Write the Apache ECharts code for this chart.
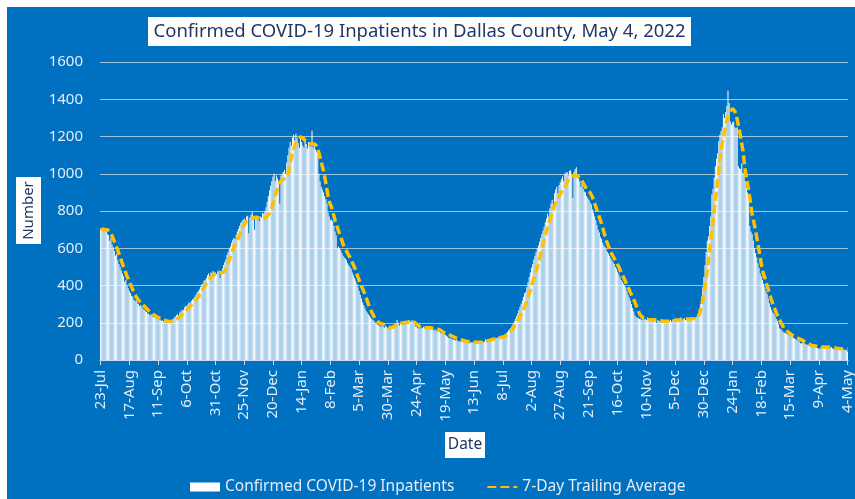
<!DOCTYPE html>
<html>
<head>
<meta charset="utf-8">
<script src="https://cdn.jsdelivr.net/npm/echarts@6/dist/echarts.min.js"></script>
<style>
html,body{margin:0;padding:0;background:#ffffff;}
#bg{position:absolute;left:7px;top:7px;width:848px;height:492px;background:#0070C0;}
#chart{position:absolute;left:0;top:0;width:855px;height:499px;}
</style>
</head>
<body>
<div id="bg"></div>
<div id="chart"></div>
<script>
// X-axis tick labels (every 25 days, 23-Jul-2020 .. 4-May-2022)
const tickLabels = ['23-Jul','17-Aug','11-Sep','6-Oct','31-Oct','25-Nov','20-Dec','14-Jan','8-Feb','5-Mar','30-Mar','24-Apr','19-May','13-Jun','8-Jul','2-Aug','27-Aug','21-Sep','16-Oct','10-Nov','5-Dec','30-Dec','24-Jan','18-Feb','15-Mar','9-Apr','4-May'];
const yTicks = [0, 200, 400, 600, 800, 1000, 1200, 1400, 1600];

// Daily confirmed COVID-19 inpatients (one value per day)
const inpatients = [
705,700,710,695,700,690,675,670,640,655,620,605,585,560,570,535,515,500,480,465,450,420,430,400,385,
370,360,345,340,325,315,320,305,300,290,295,285,275,270,262,258,250,248,240,245,235,230,232,225,222,
220,215,218,210,212,205,208,200,205,210,206,215,212,220,228,232,240,245,238,255,262,270,268,282,290,
288,300,310,305,318,325,330,340,350,362,370,380,392,405,410,425,430,440,455,465,450,470,468,478,465,
470,462,475,480,440,475,490,510,525,540,565,580,598,610,630,645,655,650,672,690,705,720,735,745,752,
760,745,770,775,680,765,780,795,770,700,760,775,755,745,770,765,790,785,800,820,850,880,910,935,960,
985,1000,960,990,975,960,840,990,1000,1010,1020,1000,1060,1100,1140,1170,1150,1195,1210,1180,1215,1190,1165,1140,1200,
1170,1150,1140,1180,1160,1135,1170,1150,1145,1232,1140,1150,1130,1120,1110,1000,960,930,915,900,880,865,840,790,770,
750,755,745,720,690,670,600,610,600,590,575,560,550,545,535,520,510,500,490,470,455,440,425,410,390,
370,350,330,310,295,280,265,255,245,238,230,222,215,210,200,195,188,190,182,178,185,180,175,182,178,
172,165,175,170,185,180,195,190,215,200,185,195,200,190,205,210,200,208,215,212,205,214,210,195,180,
178,170,172,168,175,170,178,172,168,175,170,176,168,165,170,160,165,158,155,160,150,145,148,140,138,
135,130,125,120,118,115,112,110,108,105,110,102,100,98,102,96,95,98,92,96,94,90,97,93,95,
92,98,88,95,100,92,98,102,95,100,110,98,105,108,112,110,115,118,112,120,118,122,125,120,130,
128,132,138,142,150,158,165,172,182,195,208,222,235,250,268,285,302,320,340,358,365,390,418,445,470,
495,515,540,560,580,600,615,635,655,675,695,715,740,760,785,770,815,840,860,830,895,915,930,895,940,
955,970,985,960,1000,1005,1010,990,1015,1020,1000,870,1010,1025,1035,990,975,960,930,945,920,905,900,880,870,
860,845,835,810,790,770,750,725,700,685,660,650,630,615,605,595,580,570,560,545,535,525,515,500,490,
475,460,445,430,420,410,400,390,370,350,335,320,300,280,260,240,232,225,228,220,222,215,225,218,222,
215,228,210,220,212,225,205,218,222,200,215,210,205,200,215,208,202,212,205,198,210,215,205,218,212,
218,225,210,222,215,228,212,220,225,215,230,222,218,228,220,215,225,222,230,235,245,270,300,340,390,
445,510,580,640,665,720,770,890,920,980,1040,1080,1110,1175,1210,1230,1250,1320,1300,1330,1365,1447,1380,1280,1265,
1275,1280,1250,1245,1250,1040,1030,1025,1055,1005,1000,960,925,900,890,720,690,675,640,600,575,550,520,495,465,
450,430,410,390,370,355,330,305,285,270,255,248,235,220,210,190,170,165,160,150,148,145,140,138,135,
132,128,125,120,115,112,108,105,100,90,88,95,90,87,85,82,78,75,70,72,68,70,69,72,65,
62,60,70,75,78,72,78,70,68,72,65,70,62,60,55,58,62,60,58,62,60,56,58,52,55,45
];

// 7-day trailing average
const trailingAverage = [
700,701,702,701,700,700,699,694,686,676,666,652,637,621,605,589,571,555,536,518,500,484,467,450,436,
420,405,392,378,364,352,340,330,321,313,306,300,295,290,283,276,270,264,258,253,248,244,240,236,232,
229,226,223,220,217,215,213,211,209,208,207,207,208,209,211,214,218,222,227,232,238,244,250,257,264,
270,276,282,288,294,300,307,315,322,330,338,348,358,369,380,391,401,411,420,428,436,443,449,455,459,
463,465,467,468,468,469,470,472,478,490,505,520,536,553,571,589,606,620,633,645,657,670,685,700,716,
730,738,745,750,753,756,758,761,764,766,767,766,764,762,760,758,758,760,763,767,772,778,787,800,818,
840,860,882,902,922,942,955,962,967,970,973,976,980,995,1025,1058,1088,1110,1130,1148,1163,1176,1188,1196,1199,
1197,1192,1185,1178,1172,1167,1163,1161,1160,1160,1161,1160,1156,1150,1133,1112,1089,1065,1040,1015,985,950,915,880,850,
835,820,797,775,752,731,713,695,677,660,642,624,607,595,584,573,562,551,538,525,511,497,480,463,445,
428,413,398,384,369,355,337,319,301,284,270,257,245,233,222,213,207,202,198,195,193,192,191,188,184,
180,177,175,174,175,178,182,187,191,194,196,197,198,199,200,201,202,203,204,205,206,206,205,203,198,
193,188,183,178,174,173,173,173,173,173,173,173,173,172,171,170,169,168,167,166,163,159,155,151,147,
145,143,140,137,134,131,128,125,122,119,116,114,112,110,108,106,104,102,101,100,99,98,97,96,96,
95,95,95,95,95,95,95,96,96,97,99,101,103,105,107,109,111,113,114,115,117,118,120,121,122,
123,125,127,131,136,141,147,153,160,169,179,190,201,212,223,234,245,256,268,284,301,319,337,357,377,
397,418,437,456,476,496,516,543,570,597,624,646,668,690,713,733,752,772,791,811,830,843,855,867,880,
892,901,910,919,928,941,955,968,980,985,988,990,991,992,991,988,984,979,973,962,950,939,928,918,911,
905,899,892,875,858,840,822,804,786,768,750,731,709,687,665,643,627,611,595,579,568,557,546,536,525,
512,499,485,472,459,445,432,418,405,391,378,364,351,337,324,311,295,279,263,248,240,233,227,222,218,
216,216,216,216,216,216,216,215,215,214,213,212,211,210,209,209,208,208,208,208,208,209,210,211,212,
213,214,215,215,216,217,217,218,218,218,219,219,219,220,221,221,222,223,224,226,232,245,266,293,323,
355,397,439,481,535,588,642,696,750,803,857,910,964,1018,1072,1125,1161,1196,1232,1259,1286,1313,1325,1336,1345,
1349,1345,1335,1320,1292,1262,1232,1196,1160,1125,1071,1017,981,946,910,868,826,785,755,725,695,659,624,588,552,
516,481,461,441,420,400,380,360,340,320,301,285,270,254,239,227,215,203,191,179,167,162,157,152,147,
142,137,132,129,126,123,120,117,114,111,108,105,102,98,95,91,88,85,81,78,77,76,75,74,73,
72,71,70,69,69,69,69,70,70,70,69,68,67,66,65,64,63,62,61,60,60,60,60,60,60,60
];

const titleText = 'Confirmed COVID-19 Inpatients in Dallas County, May 4, 2022';
const barName = 'Confirmed COVID-19 Inpatients';
const lineName = '7-Day Trailing Average';

const dayIndex = inpatients.map((_, i) => i);
const FONT = '"Noto Sans", "Open Sans", sans-serif';
const lightText = '#E4ECF6';

const chart = echarts.init(document.getElementById('chart'), null, {renderer: 'canvas'});
chart.setOption({
  animation: false,
  backgroundColor: 'transparent',
  textStyle: {fontFamily: FONT},
  grid: {left: 100, right: 5, top: 62, bottom: 139, containLabel: false},
  xAxis: {
    type: 'category',
    data: dayIndex,
    boundaryGap: true,
    axisLine: {show: true, lineStyle: {color: '#C9D9EC', width: 1}},
    axisTick: {show: true, interval: 24, alignWithLabel: true, length: 5, lineStyle: {color: '#C9D9EC'}},
    axisLabel: {
      interval: 24, rotate: 90, margin: 10, color: lightText, fontSize: 15, fontFamily: FONT,
      formatter: function (v, i) { return (i % 25 === 0) ? tickLabels[i / 25] : ''; }
    },
    splitLine: {show: false}
  },
  yAxis: {
    type: 'value',
    min: yTicks[0], max: yTicks[yTicks.length - 1], interval: 200,
    axisLine: {show: false},
    axisTick: {show: false},
    axisLabel: {color: lightText, fontSize: 15, margin: 17, fontFamily: FONT,
      formatter: function (v) { return String(v); }},
    splitLine: {show: true, lineStyle: {color: 'rgba(220,226,234,0.72)', width: 1}}
  },
  legend: {
    left: 185, top: 474,
    itemWidth: 30, itemHeight: 9, itemGap: 32,
    textStyle: {color: lightText, fontSize: 15.5, fontFamily: FONT},
    data: [
      {name: barName, icon: 'rect'},
      {name: lineName, itemStyle: {color: 'rgba(0,0,0,0)', borderColor: 'rgba(0,0,0,0)', borderWidth: 0}}
    ]
  },
  series: [
    {
      name: barName,
      type: 'bar',
      data: inpatients,
      barWidth: 1,
      itemStyle: {color: '#FFFFFF'},
      emphasis: {disabled: true},
      z: 2
    },
    {
      name: lineName,
      type: 'line',
      data: trailingAverage,
      symbol: 'none',
      showSymbol: false,
      lineStyle: {color: '#FFC000', width: 3.5, type: [9, 4]},
      itemStyle: {color: '#FFC000'},
      emphasis: {disabled: true},
      z: 3
    }
  ],
  graphic: [
    {type: 'rect', left: 148, top: 17, shape: {width: 543, height: 29}, style: {fill: '#FFFFFF'}, z: 10},
    {type: 'text', x: 419.5, y: 32, z: 11,
      style: {text: titleText, fill: '#203864', font: '18.5px ' + FONT, textAlign: 'center', textVerticalAlign: 'middle'}},
    {type: 'rect', left: 16, top: 177, shape: {width: 25, height: 67}, style: {fill: '#FFFFFF'}, z: 10},
    {type: 'text', x: 28.5, y: 210.5, rotation: Math.PI / 2, z: 11,
      style: {text: 'Number', fill: '#203864', font: '15px ' + FONT, textAlign: 'center', textVerticalAlign: 'middle'}},
    {type: 'rect', left: 445, top: 432, shape: {width: 40, height: 26}, style: {fill: '#FFFFFF'}, z: 10},
    {type: 'text', x: 465, y: 445, z: 11,
      style: {text: 'Date', fill: '#203864', font: '15.5px ' + FONT, textAlign: 'center', textVerticalAlign: 'middle'}}
  ]
});
</script>
</body>
</html>
